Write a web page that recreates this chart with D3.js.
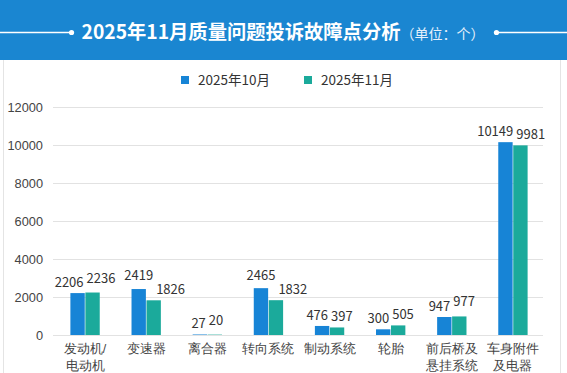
<!DOCTYPE html>
<html>
<head>
<meta charset="utf-8">
<script src="https://cdn.jsdelivr.net/npm/d3@7"></script>
<style>
  body { margin: 0; background: #fff; }
  svg { display: block; font-family: "Noto Sans CJK SC", "Noto Sans", sans-serif; }
</style>
</head>
<body>
<div id="chart"></div>
<script>
// Datos
const categories = ["发动机/\n电动机", "变速器", "离合器", "转向系统", "制动系统", "轮胎", "前后桥及\n悬挂系统", "车身附件\n及电器"]
const series = ["2025年10月", "2025年11月"]
const oct = [2206, 2419, 27, 2465, 476, 300, 947, 10149]
const nov = [2236, 1826, 20, 1832, 397, 505, 977, 9981]
const yTicks = [0, 2000, 4000, 6000, 8000, 10000, 12000]
const title = "2025年11月质量问题投诉故障点分析"
const unit = "（单位：个）"

const width = 567, height = 373
const margin = { left: 54.5, right: 23.5, top: 107, bottom: 38 }
const colours = ["#1784d6", "#1baa9b"]

const svg = d3.select("#chart").append("svg")
  .attr("width", width)
  .attr("height", height)

// Cabecera
svg.append("rect").attr("width", width).attr("height", 60).attr("fill", "#1a86d1")
// borde del panel
svg.append("line").attr("x1", 3.5).attr("x2", 3.5).attr("y1", 60).attr("y2", height).attr("stroke", "#e4e4e4")
svg.append("line").attr("x1", 560.5).attr("x2", 560.5).attr("y1", 60).attr("y2", height).attr("stroke", "#e4e4e4")

const titleText = svg.append("text")
  .attr("x", 283).attr("y", 39)
  .attr("text-anchor", "middle")
  .attr("fill", "#fff")
titleText.append("tspan").attr("font-size", 19.3).attr("font-weight", "bold").text(title)
titleText.append("tspan").attr("font-size", 14).attr("fill", "#e6f1fb").text(unit)

const tb = titleText.node().getBBox()
const leftDot = tb.x - 10, rightDot = tb.x + tb.width + 12
svg.append("line").attr("x1", 0).attr("x2", leftDot).attr("y1", 32.5).attr("y2", 32.5).attr("stroke", "#fff").attr("stroke-width", 1.3)
svg.append("line").attr("x1", rightDot).attr("x2", width).attr("y1", 32.5).attr("y2", 32.5).attr("stroke", "#fff").attr("stroke-width", 1.3)
svg.append("circle").attr("cx", leftDot).attr("cy", 32.5).attr("r", 2.6).attr("fill", "#fff")
svg.append("circle").attr("cx", rightDot).attr("cy", 32.5).attr("r", 2.6).attr("fill", "#fff")

// Leyenda
const legend = svg.append("g")
series.forEach((s, i) => {
  const g = legend.append("g").attr("transform", `translate(${181 + i * 123},0)`)
  g.append("rect").attr("x", 0).attr("y", 76).attr("width", 8).attr("height", 8).attr("fill", colours[i])
  g.append("text").attr("x", 17).attr("y", 85).attr("font-size", 13.5).attr("fill", "#333").text(s)
})

// Escalas
const x = d3.scaleBand()
  .domain(categories)
  .range([margin.left, width - margin.right])
  .paddingInner(0.52)
  .paddingOuter(0.26)

const x1 = d3.scaleBand()
  .domain(series)
  .range([0, x.bandwidth()])
  .paddingInner(0.04)

const y = d3.scaleLinear()
  .domain([0, 12000])
  .range([height - margin.bottom, margin.top])

// Ejes
const yAxis = svg.append("g")
  .attr("transform", `translate(53,0)`)
  .call(d3.axisLeft(y).tickValues(yTicks).tickSize(-(543 - 53)).tickPadding(10).tickFormat(d3.format("d")))
yAxis.select(".domain").remove()
yAxis.selectAll("line").attr("stroke", "#e2e2e2")
yAxis.selectAll("text").attr("font-size", 12.8).attr("fill", "#444").attr("font-family", null)

const xAxis = svg.append("g")
  .attr("transform", `translate(0,${height - margin.bottom})`)
  .call(d3.axisBottom(x).tickSize(0).tickPadding(9))
xAxis.select(".domain").remove()
xAxis.selectAll("text")
  .attr("font-size", 12.5).attr("fill", "#444").attr("font-family", null)
  .each(function (d) {
    const t = d3.select(this)
    t.text(null)
    d.split("\n").forEach((line, i) => {
      t.append("tspan").attr("x", 0).attr("dy", i === 0 ? "0.71em" : "1.35em").text(line)
    })
  })

// Barras
const rows = categories.map((c, i) => ({ cat: c, values: [oct[i], nov[i]] }))
const groups = svg.append("g").selectAll("g")
  .data(rows)
  .join("g")
    .attr("transform", d => `translate(${x(d.cat)},0)`)

groups.selectAll("rect")
  .data(d => d.values.map((v, i) => ({ key: series[i], v, i })))
  .join("rect")
    .attr("x", d => x1(d.key))
    .attr("y", d => y(d.v))
    .attr("width", x1.bandwidth())
    .attr("height", d => y(0) - y(d.v))
    .attr("fill", d => colours[d.i])

// Etiquetas de valor: si se pisan, se separan en horizontal o se sube la más alta
groups.each(function (row) {
  const g = d3.select(this)
  const base = row.values.map(v => y(v) - 6)
  const labels = row.values.map((v, i) => g.append("text")
    .attr("text-anchor", "middle")
    .attr("font-size", 13)
    .attr("fill", "#333")
    .text(v))
  const w = labels.map(l => l.node().getComputedTextLength())
  const cx = series.map(s => x1(s) + x1.bandwidth() / 2)
  const need = Math.max(0, (w[0] + w[1]) / 2 + 3 - (cx[1] - cx[0]))
  const dy = Math.abs(base[0] - base[1])
  if (dy < 6) {
    cx[0] -= need / 2
    cx[1] += need / 2
    if (dy < 1) base[1] -= 4
  } else if (dy < 14) {
    // la más alta sube y la más baja se aparta hacia su lado
    const hi = base[0] < base[1] ? 0 : 1
    const lo = 1 - hi
    base[hi] = base[lo] - 14
    cx[lo] += lo === 1 ? need : -need
  }
  labels.forEach((l, i) => l.attr("x", cx[i]).attr("y", base[i]))
})
</script>
</body>
</html>
